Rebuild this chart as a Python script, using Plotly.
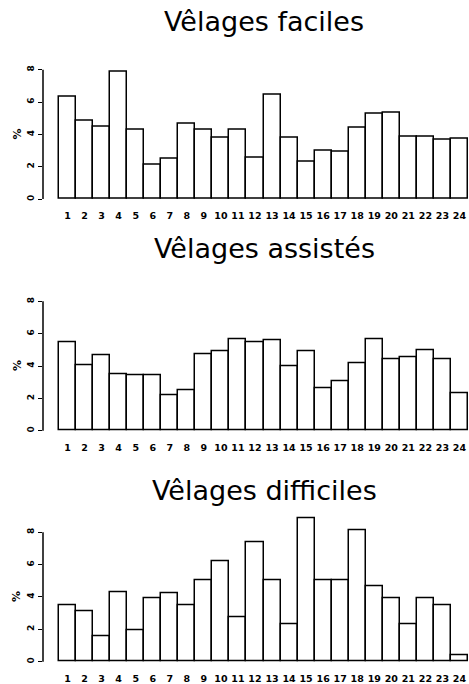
import plotly.graph_objects as go

W, H = 469, 684

mois = [str(i) for i in range(1, 25)]
x_pos = list(range(1, 25))

faciles = [6.33, 4.82, 4.47, 7.90, 4.29, 2.12, 2.52, 4.66, 4.29, 3.77, 4.29, 2.56,
           6.43, 3.77, 2.29, 3.01, 2.91, 4.41, 5.30, 5.34, 3.86, 3.86, 3.69, 3.73]
assistes = [5.46, 4.07, 4.68, 3.52, 3.41, 3.41, 2.19, 2.52, 4.70, 4.93, 5.64, 5.48,
            5.58, 3.99, 4.93, 2.64, 3.03, 4.19, 5.64, 4.42, 4.52, 4.95, 4.42, 2.31]
difficiles = [3.50, 3.09, 1.55, 4.28, 1.94, 3.91, 4.26, 3.50, 5.05, 6.22, 2.74, 7.37,
              5.05, 2.32, 8.89, 5.05, 5.05, 8.13, 4.66, 3.92, 2.32, 3.92, 3.50, 0.42]

titles = ["Vêlages faciles", "Vêlages assistés", "Vêlages difficiles"]
series = [faciles, assistes, difficiles]
y_ticks = [0, 2, 4, 6, 8]

# layout (pixels)
scale = 16.25
baselines = [200.0, 432.7, 664.6]
title_y = [22.0, 250.0, 493.0]
y_lo, y_hi = -0.3, 9.3
x_left_px = 43.0
x_range = [-0.44, 24.56]

fig = go.Figure()
annotations = []
shapes = []

for i, (vals, ttl) in enumerate(zip(series, titles)):
    n = i + 1
    sx = "" if n == 1 else str(n)
    top_px = baselines[i] - y_hi * scale
    bot_px = baselines[i] - y_lo * scale
    dom = [1 - bot_px / H, 1 - top_px / H]
    fig.add_trace(go.Bar(
        x=x_pos, y=vals, width=1.0,
        marker=dict(color="white", line=dict(color="black", width=1.5)),
        xaxis="x" + sx, yaxis="y" + sx, showlegend=False,
    ))
    fig.layout["xaxis" + sx] = dict(
        domain=[x_left_px / W, 1], range=x_range, anchor="y" + sx,
        tickmode="array", tickvals=x_pos, ticktext=mois,
        showgrid=False, zeroline=False, showline=False, ticks="",
        ticklabelstandoff=5,
        tickfont=dict(family="DejaVu Sans", size=9.5, color="black", weight="bold"),
    )
    fig.layout["yaxis" + sx] = dict(
        domain=dom, range=[y_lo, y_hi], anchor="x" + sx,
        tickmode="array", tickvals=y_ticks, ticktext=[str(v) for v in y_ticks],
        tickangle=-90, ticks="outside", ticklen=4, tickwidth=1.3, tickcolor="black",
        showgrid=False, zeroline=False, showline=False,
        tickfont=dict(family="DejaVu Sans", size=9, color="black", weight="bold"),
    )
    shapes.append(dict(type="line", xref="x" + sx + " domain", yref="y" + sx,
                       x0=0, x1=0, y0=0, y1=8, line=dict(color="black", width=1.5)))
    annotations.append(dict(text=ttl, xref="paper", yref="paper",
                            x=264 / W, y=1 - title_y[i] / H, xanchor="center", yanchor="middle",
                            showarrow=False,
                            font=dict(family="DejaVu Sans", size=27, color="black")))
    annotations.append(dict(text="%", xref="paper", yref="paper",
                            x=17 / W, y=1 - (baselines[i] - 4.0 * scale) / H,
                            xanchor="center", yanchor="middle", textangle=-90,
                            showarrow=False,
                            font=dict(family="DejaVu Sans", size=11, color="black", weight="bold")))

fig.update_layout(
    width=W, height=H, autosize=False,
    margin=dict(l=0, r=0, t=0, b=0),
    paper_bgcolor="white", plot_bgcolor="white",
    bargap=0, annotations=annotations, shapes=shapes,
)

fig.write_html("out.html", config={"displayModeBar": False},
               post_script="document.body.style.margin='0';document.body.style.padding='0';")
